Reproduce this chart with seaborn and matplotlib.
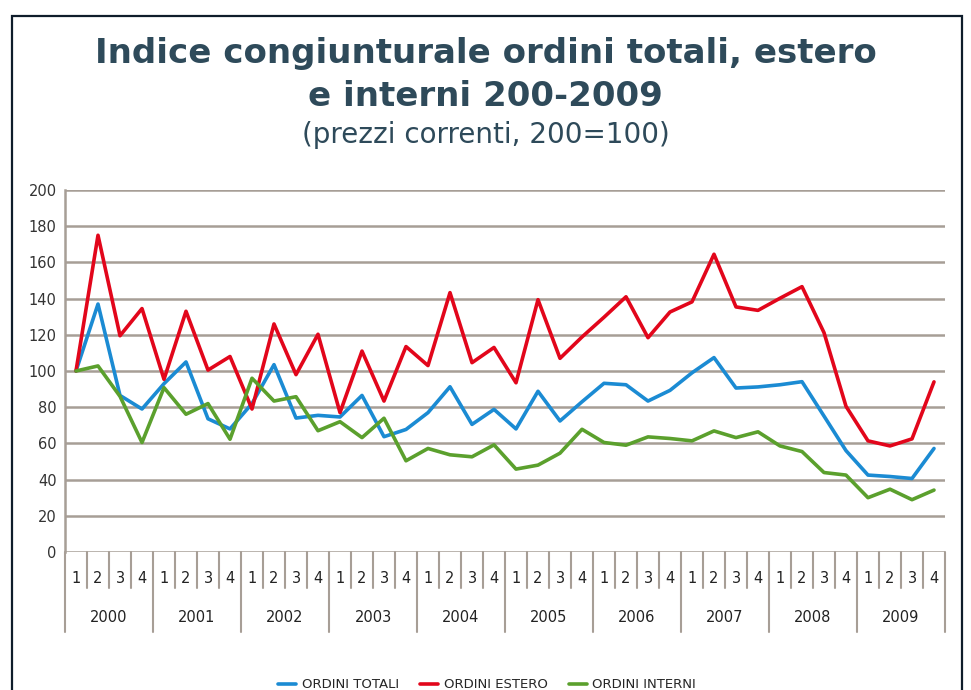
import matplotlib
matplotlib.use("Agg")
import matplotlib.pyplot as plt
from matplotlib.patches import Rectangle
import seaborn as sns
import pandas as pd

# dati trimestrali (indice, 2000 Q1 = 100)
anni = ["2000", "2001", "2002", "2003", "2004", "2005", "2006", "2007", "2008", "2009"]
trimestri = ["1", "2", "3", "4"]

ordini_totali = [100, 137, 86.5, 79, 93, 105, 73.6, 68, 82, 103.5, 74, 75.5,
                 74.6, 86.5, 63.7, 67.7, 77, 91.3, 70.5, 78.8, 68, 88.8, 72.4, 83,
                 93.2, 92.4, 83.4, 89.3, 99, 107.4, 90.6, 91.2, 92.4, 94.1, 75.1, 56,
                 42.5, 41.7, 40.6, 57.2]
ordini_estero = [100, 175, 119.5, 134.5, 95.4, 133, 100.5, 108, 79, 126, 98, 120.3,
                 77, 111, 83.4, 113.5, 103, 143.3, 104.6, 113, 93.5, 139.4, 107, 118.8,
                 129.7, 141, 118.4, 132.6, 138.2, 164.5, 135.4, 133.5, 140.2, 146.6, 121.2, 80.5,
                 61.4, 58.6, 62.5, 94]
ordini_interni = [100, 102.8, 86, 60.5, 90.8, 76.1, 82, 62.3, 96, 83.4, 85.8, 67,
                  72, 63.2, 73.9, 50.4, 57.2, 53.7, 52.6, 59.2, 45.8, 48, 54.6, 67.8,
                  60.5, 59, 63.6, 62.7, 61.4, 66.9, 63.2, 66.4, 58.6, 55.5, 43.9, 42.5,
                  30, 34.7, 28.9, 34.2]

serie = {"ORDINI TOTALI": ordini_totali,
         "ORDINI ESTERO": ordini_estero,
         "ORDINI INTERNI": ordini_interni}
colori = {"ORDINI TOTALI": "#1b8bd3",
          "ORDINI ESTERO": "#e2061b",
          "ORDINI INTERNI": "#5ba02d"}

n = len(ordini_totali)
rows = []
for nome, valori in serie.items():
    for i, v in enumerate(valori):
        rows.append({"pos": i, "valore": v, "serie": nome})
df = pd.DataFrame(rows)

sns.set_style("white")
plt.rcParams["font.family"] = ["DejaVu Sans"]

grigio = "#a79e96"

fig = plt.figure(figsize=(9.71, 6.9), dpi=100)
ax = fig.add_axes([65 / 971, 138 / 690, 880 / 971, 362 / 690])

sns.lineplot(data=df, x="pos", y="valore", hue="serie", palette=colori,
             linewidth=2.6, ax=ax, legend=True)

ax.set_xlim(-0.5, n - 0.5)
ax.set_ylim(0, 200)
ax.set_yticks(range(0, 201, 20))
ax.yaxis.grid(True, color=grigio, linewidth=1.8)
ax.set_axisbelow(True)
for s in ["top", "right", "bottom"]:
    ax.spines[s].set_visible(False)
ax.spines["left"].set_color(grigio)
ax.spines["left"].set_linewidth(1.8)
ax.tick_params(axis="y", length=4, width=1.5, color=grigio, labelsize=10.5,
               labelcolor="#333333", pad=2)
ax.set_xticks([])
ax.set_xlabel("")
ax.set_ylabel("")

# etichette categorie: trimestri e anni
trans = ax.get_xaxis_transform()
for i in range(n + 1):
    lungo = (i % 4 == 0)
    ax.plot([i - 0.5, i - 0.5], [0, -0.22 if lungo else -0.1], transform=trans,
            color=grigio, linewidth=1.5, clip_on=False)
for i in range(n):
    ax.text(i, -0.072, trimestri[i % 4], transform=trans, ha="center", va="center",
            fontsize=10.5, color="#222222")
for k, anno in enumerate(anni):
    ax.text(k * 4 + 1.5, -0.18, anno, transform=trans, ha="center", va="center",
            fontsize=10.5, color="#222222")

# legenda in basso
ax.legend_.remove()
handles, labels = ax.get_legend_handles_labels()
leg = fig.legend(handles, labels, loc="center", bbox_to_anchor=(487 / 971, 5 / 690),
                 ncol=3, frameon=False, handlelength=1.4, handletextpad=0.4,
                 columnspacing=1.6, prop={"family": ["Liberation Sans Narrow", "DejaVu Sans"], "size": 9.5})
for h in leg.legend_handles:
    h.set_linewidth(2.6)

# titolo
colore_tit = "#2e4a5a"
fig.text(0.5, 1 - 53 / 690, "Indice congiunturale ordini totali, estero", ha="center",
         va="center", fontsize=24.5, fontweight="bold", color=colore_tit)
fig.text(0.5, 1 - 97 / 690, "e interni 200-2009", ha="center", va="center",
         fontsize=24.5, fontweight="bold", color=colore_tit)
fig.text(0.5, 1 - 135 / 690, "(prezzi correnti, 200=100)", ha="center", va="center",
         fontsize=20, color=colore_tit)

# cornice
fig.patches.append(Rectangle((12 / 971, -0.1), 950 / 971, 1.1 - 16 / 690,
                             transform=fig.transFigure, fill=False,
                             edgecolor="#0f1d2b", linewidth=1.6))

fig.savefig("out.png", dpi=100)
